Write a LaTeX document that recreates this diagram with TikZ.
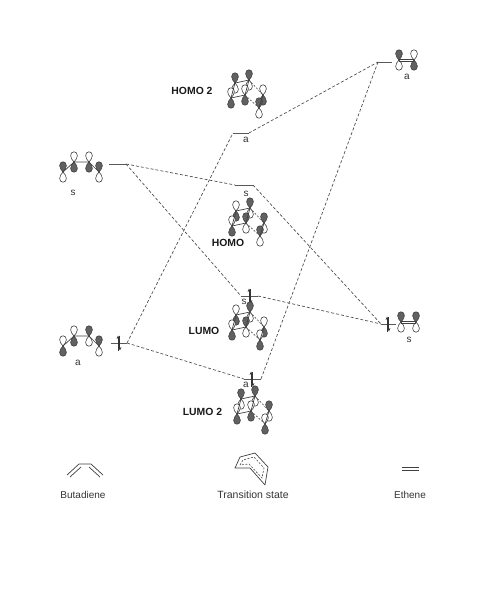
\documentclass[tikz,border=0pt]{standalone}
\usepackage{fontspec}
\setmainfont{Liberation Sans}
\usetikzlibrary{arrows.meta}
\tikzset{
  x=1pt,y=-1pt,
  lobefull/.style={draw=black!75,line width=.6pt,fill=black!62},
  lobeopen/.style={draw=black!75,line width=.6pt,fill=white},
  bond/.style={draw=black!75,line width=.7pt},
  tsdash/.style={draw=black!70,line width=.6pt,dash pattern=on 2pt off 1.5pt},
  levelline/.style={draw=black!65,line width=1pt},
  corr/.style={draw=black!72,line width=.65pt,dash pattern=on 3pt off 2pt},
  lab/.style={inner sep=0pt,font=\fontsize{10}{12}\selectfont,text=black!80},
  blab/.style={inner sep=0pt,font=\fontsize{10.4}{12}\selectfont\bfseries,text=black!90},
  spin/.style={line width=.9pt,black!80,-{Stealth[length=3.5pt,width=3pt]}},
}
\newcommand{\drop}[4]{% x,y,direction(+1 down,-1 up),style
  \path[#4,shift={(#1,#2)},yscale=#3]
    (0,0) .. controls (-1.4,2) and (-3.4,3.6) .. (-3.4,6.4)
          .. controls (-3.4,8.8) and (-1.8,10.2) .. (0,10.2)
          .. controls (1.8,10.2) and (3.4,8.8) .. (3.4,6.4)
          .. controls (3.4,3.6) and (1.4,2) .. (0,0) -- cycle;}
\newcommand{\orbU}[2]{\drop{#1}{#2}{1}{lobeopen}\drop{#1}{#2}{-1}{lobefull}}
\newcommand{\orbD}[2]{\drop{#1}{#2}{-1}{lobeopen}\drop{#1}{#2}{1}{lobefull}}
% transition-state orbital: ox, oy, then six atom macros (U or D)
\newcommand{\tsorb}[8]{%
  \begin{scope}[shift={(#1,#2)}]
    \csname orb#7\endcsname{263}{95}
    \csname orb#8\endcsname{259}{108}
    \csname orb#3\endcsname{235}{83}
    \csname orb#4\endcsname{249}{80}
    \csname orb#5\endcsname{231}{98}
    \csname orb#6\endcsname{245}{95}
    \path[bond] (235,83) -- (249,80) -- (245,95) -- (231,98) -- cycle;
    \path[bond] (263,95) -- (259,108);
    \path[tsdash] (249,80) -- (263,95);
    \path[tsdash] (245,95) -- (259,108);
  \end{scope}}
\begin{document}
\begin{tikzpicture}
\useasboundingbox (0,0) rectangle (497,600);
% level end points
\coordinate (bsL) at (109,164); \coordinate (bsR) at (126,164);
\coordinate (baL) at (111,343); \coordinate (baR) at (127,343);
\coordinate (eaL) at (378,62);  \coordinate (eaR) at (392,62);
\coordinate (esL) at (381,324); \coordinate (esR) at (396,324);
\coordinate (h2L) at (233,133); \coordinate (h2R) at (249,133);
\coordinate (hoL) at (235,185); \coordinate (hoR) at (253,185);
\coordinate (luL) at (241,296); \coordinate (luR) at (258,296);
\coordinate (l2L) at (244,379); \coordinate (l2R) at (261,379);
% correlation lines
\path[corr] (bsR) -- (hoL);
\path[corr] (bsR) -- (luL);
\path[corr] (baR) -- (h2L);
\path[corr] (baR) -- (l2L);
\path[corr] (h2R) -- (eaL);
\path[corr] (hoR) -- (esL);
\path[corr] (luR) -- (esL);
\path[corr] (l2R) -- (eaL);
% levels
\foreach \a/\b in {bsL/bsR,baL/baR,eaL/eaR,esL/esR,h2L/h2R,hoL/hoR,luL/luR,l2L/l2R}
  \path[levelline] (\a) -- (\b);
% spin pairs
\foreach \cx/\cy in {119/343,250/296,252/379,388/324}{
  \draw[spin] (\cx-0.9,\cy+7.5) -- (\cx-0.9,\cy-7.5);
  \draw[spin] (\cx+0.9,\cy-7.5) -- (\cx+0.9,\cy+7.5);
}
% butadiene s
\orbU{63}{172}\orbD{74}{162}\orbD{89}{162}\orbU{99}{172}
\path[bond] (63,172) -- (74,162) -- (89,162) -- (99,172);
% butadiene a
\orbD{63}{346}\orbD{74}{336}\orbU{89}{336}\orbU{99}{346}
\path[bond] (63,346) -- (74,336) -- (89,336) -- (99,346);
% ethene a
\orbU{399}{60}\orbD{414}{60}
\path[bond] (399,59.2) -- (414,59.2) (399,61) -- (414,61);
% ethene s
\orbU{401}{322}\orbU{416}{322}
\path[bond] (401,321.2) -- (416,321.2) (401,323) -- (416,323);
% transition state orbitals
\tsorb{0}{0}{U}{U}{D}{D}{D}{U}
\tsorb{1}{128}{D}{U}{D}{U}{U}{U}
\tsorb{1}{232}{D}{U}{D}{U}{D}{D}
\tsorb{6}{316}{U}{U}{D}{D}{U}{D}
% level labels
\node[lab] (tsA) at (246,140) {a};
\node[lab] (tsB) at (246,194) {s};
\node[lab] (tsC) at (244,302) {s};
\node[lab] (tsD) at (246,385) {a};
\node[lab] (bS) at (73,193) {s};
\node[lab] (bA) at (78,363) {a};
\node[lab] (eA) at (407,77) {a};
\node[lab] (eS) at (409,340) {s};
% orbital labels
\node[blab] (h2) at (192,91) {HOMO 2};
\node[blab] (ho) at (228,243) {HOMO};
\node[blab] (lu) at (204,331) {LUMO};
\node[blab] (l2) at (202.5,412) {LUMO 2};
% bottom structures
\path[bond] (67,475) -- (79,464) -- (91,464) -- (103,475);
\path[bond] (70,477) -- (81,467);
\path[bond] (89,467) -- (100,477);
\path[bond] (402,467) -- (419,467) (402,470) -- (419,470);
\path[bond,line join=round] (235,468) -- (240,457) -- (255,453) -- (268,467) -- (265,485) -- (250,468) -- cycle;
\path[tsdash] (240,465) -- (243,460) -- (254,457) -- (264,468) -- (262,478) -- (249,464) -- cycle;
\node[lab] (nb) at (83,495) {Butadiene};
\node[lab,font=\fontsize{10.5}{12}\selectfont] (nt) at (253,495) {Transition state};
\node[lab] (ne) at (410,495) {Ethene};
\end{tikzpicture}
\end{document}
